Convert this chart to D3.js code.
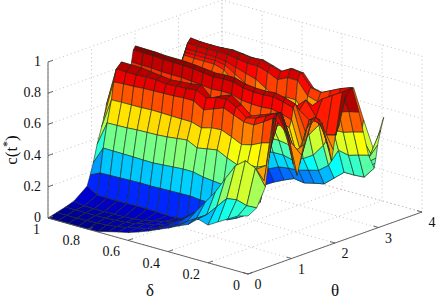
<!DOCTYPE html>
<html>
<head>
<meta charset="utf-8">
<script src="https://cdn.jsdelivr.net/npm/d3@7"></script>
<style>
  html, body { margin: 0; padding: 0; background: #fff; }
  svg { display: block; }
  text { font-family: "Liberation Serif", serif; font-size: 14px; fill: #111; }
</style>
</head>
<body>
<svg id="chart" width="436" height="300"></svg>
<script>
// grid of the surface
const deltas = d3.range(0, 21).map(i => +(1 - i * 0.05).toFixed(2));
const thetas = [0, .2, .4, .6, .9, .97, 1.04, 1.13, 1.23, 1.28, 1.34, 1.46, 1.56, 1.7, 1.87, 1.92, 1.96, 2.01,
  2.1, 2.25, 2.4, 2.55, 2.65, 2.77, 2.9, 2.92, 2.94, 2.98, 3.05, 3.12];

// c(t*), one row per theta, delta going 1 -> 0
const heights = [
  [0,0,0,0,0,.003,.02,.036,.05,.072,.096,.124,.151,.182,.21,.263,.242,.28,.317,.354,.372],
  [.015,.015,.015,.018,.02,.025,.033,.045,.06,.075,.095,.125,.15,.19,.23,.27,.34,.41,.42,.4,.404],
  [.03,.03,.03,.03,.032,.035,.04,.05,.065,.08,.1,.132,.175,.232,.314,.396,.5,.6,.65,.62,.518],
  [.05,.035,.035,.035,.036,.038,.042,.05,.065,.08,.1,.14,.19,.24,.3,.36,.42,.5,.57,.52,.94],
  [.115,.076,.074,.073,.075,.077,.076,.074,.07,.072,.083,.1,.12,.15,.15,.18,.22,.3,.573,.92,.81],
  [.18,.21,.212,.214,.216,.218,.217,.219,.221,.222,.224,.217,.215,.22,.22,.25,.28,.31,.663,.918,.74],
  [.25,.363,.362,.361,.36,.358,.357,.362,.367,.372,.371,.356,.349,.342,.34,.34,.36,.41,.86,.865,.6],
  [.36,.515,.517,.519,.524,.526,.528,.533,.541,.549,.516,.528,.539,.506,.48,.5,.5,.53,.884,.786,.52],
  [.46,.653,.655,.656,.657,.66,.659,.657,.656,.655,.635,.653,.658,.631,.6,.615,.646,.664,.874,.7,.64],
  [.51,.763,.768,.77,.775,.777,.779,.781,.786,.785,.745,.769,.794,.767,.74,.738,.776,.819,.824,.637,.7],
  [.59,.84,.838,.837,.842,.841,.833,.838,.84,.849,.815,.837,.845,.812,.76,.776,.808,.845,.767,.541,.79],
  [.69,.873,.872,.871,.863,.855,.847,.853,.858,.869,.804,.835,.859,.813,.76,.785,.81,.833,.659,.6,.84],
  [.6,.62,.62,.62,.62,.62,.62,.62,.62,.63,.64,.66,.7,.72,.73,.74,.74,.745,.54,.74,.85],
  [.55,.55,.55,.55,.55,.55,.58,.6,.62,.62,.64,.66,.68,.7,.72,.72,.72,.6,.558,.8,.79],
  [.7,.7,.7,.695,.694,.693,.688,.681,.673,.678,.677,.67,.68,.68,.69,.69,.68,.459,.765,.783,.61],
  [.809,.807,.806,.801,.8,.799,.794,.787,.779,.784,.783,.762,.755,.753,.76,.745,.725,.518,.76,.765,.533],
  [.882,.881,.88,.875,.874,.873,.868,.861,.853,.858,.857,.836,.829,.827,.833,.818,.798,.578,.769,.723,.6],
  [.903,.901,.9,.895,.894,.893,.888,.881,.873,.878,.877,.856,.849,.847,.853,.838,.818,.656,.77,.673,.69],
  [.45,.7,.7,.7,.7,.7,.72,.74,.76,.82,.8,.8,.79,.81,.8,.79,.77,.724,.743,.568,.75],
  [.45,.6,.6,.6,.6,.6,.62,.64,.66,.72,.7,.69,.68,.69,.73,.76,.82,.729,.631,.649,.92],
  [.45,.55,.55,.55,.55,.55,.55,.56,.56,.6,.58,.57,.57,.59,.64,.71,.77,.83,.87,.91,.954],
  [.45,.5,.5,.5,.5,.5,.48,.46,.44,.48,.47,.46,.46,.45,.51,.55,.63,.73,.75,.77,.785],
  [.5,.55,.55,.55,.55,.55,.5,.45,.4,.36,.35,.355,.356,.34,.37,.41,.49,.606,.61,.63,.647],
  [.55,.68,.68,.68,.68,.66,.6,.45,.3,.2,.22,.25,.26,.265,.283,.3,.35,.465,.45,.47,.487],
  [.6,.774,.77,.77,.77,.75,.68,.6,.5,.085,.122,.153,.18,.17,.186,.2,.255,.31,.31,.315,.39],
  [.6,.79,.79,.79,.79,.78,.74,.7,.66,.6,.55,.58,.58,.5,.48,.5,.52,.54,.36,.36,.42],
  [.6,.81,.81,.81,.81,.8,.78,.76,.74,.7,.66,.68,.68,.6,.58,.6,.62,.64,.4,.4,.45],
  [.62,.844,.84,.84,.84,.84,.83,.82,.82,.8,.77,.8,.8,.72,.7,.73,.76,.78,.45,.42,.53],
  [.65,.869,.862,.861,.861,.866,.86,.852,.856,.836,.815,.852,.845,.766,.752,.783,.814,.838,.55,.45,.62],
  [.62,.85,.847,.846,.851,.856,.849,.841,.846,.826,.805,.842,.835,.756,.742,.773,.804,.828,.64,.467,.695]
];

// axis ticks
const deltaTicks = [0, .2, .4, .6, .8, 1];
const thetaTicks = [0, 1, 2, 3, 4];
const zTicks = [0, .2, .4, .6, .8, 1];

// fixed oblique view of the box, corners measured on the picture
const dx = d3.scaleLinear().domain([1, 0]).range([0, 200]);
const dy = d3.scaleLinear().domain([1, 0]).range([0, 56]);
const tx = d3.scaleLinear().domain([0, 4]).range([0, 174]);
const ty = d3.scaleLinear().domain([0, 4]).range([0, 62]);
const zy = d3.scaleLinear().domain([0, 1]).range([0, 156]);
const project = (d, t, z) => [48 + dx(d) + tx(t), 218 + dy(d) - ty(t) - zy(z)];

const svg = d3.select("#chart");
const line = d3.line();

/// back walls and floor ///
const grid = svg.append("g")
  .attr("fill", "none")
  .attr("stroke", "#a8a8a8")
  .attr("stroke-width", 0.7)
  .attr("stroke-dasharray", "1 3");
const gridLines = [];
deltaTicks.forEach(d => {
  gridLines.push([project(d, 0, 0), project(d, 4, 0), project(d, 4, 1)]);
});
thetaTicks.forEach(t => {
  gridLines.push([project(0, t, 0), project(1, t, 0), project(1, t, 1)]);
});
zTicks.forEach(z => {
  gridLines.push([project(1, 0, z), project(1, 4, z), project(0, 4, z)]);
});
grid.selectAll("path").data(gridLines).join("path").attr("d", line);

/// surface ///
const cMax = 0.9;
const jet = t => {
  t = Math.max(0, Math.min(1, t));
  const f = v => Math.round(255 * Math.max(0, Math.min(1, 1.5 - Math.abs(4 * t - v))));
  return `rgb(${f(3)},${f(2)},${f(1)})`;
};
// far cells first so the near ones paint over them
const cells = [];
for (let i = thetas.length - 2; i >= 0; i--) {
  for (let j = 0; j < deltas.length - 1; j++) {
    const corners = [[i, j], [i, j + 1], [i + 1, j + 1], [i + 1, j]];
    cells.push({
      pts: corners.map(([a, b]) => project(deltas[b], thetas[a], heights[a][b])),
      z: d3.mean(corners, ([a, b]) => heights[a][b])
    });
  }
}
svg.append("g").selectAll("path")
  .data(cells)
  .join("path")
  .attr("d", d => line(d.pts) + "Z")
  .attr("fill", d => jet(d.z / cMax))
  .attr("stroke", "#1c2a1c")
  .attr("stroke-width", 0.6)
  .attr("stroke-linejoin", "round");

/// axes ///
const axes = svg.append("g").attr("fill", "none").attr("stroke", "#555").attr("stroke-width", 0.9);
axes.append("path").attr("d", line([project(1, 0, 1), project(1, 0, 0), project(0, 0, 0), project(0, 4, 0)]));
const tickLines = [
  ...zTicks.map(z => [project(1, 0, z), [project(1, 0, z)[0] + 5, project(1, 0, z)[1] - 1.8]]),
  ...deltaTicks.map(d => [project(d, 0, 0), [project(d, 0, 0)[0] + 5, project(d, 0, 0)[1] - 1.8]]),
  ...thetaTicks.map(t => [project(0, t, 0), [project(0, t, 0)[0] - 5, project(0, t, 0)[1] - 1.4]])
];
axes.selectAll("path.tick").data(tickLines).join("path").attr("class", "tick").attr("d", line);

/// labels ///
const labels = svg.append("g");
labels.selectAll("text.z").data(zTicks).join("text").attr("class", "z")
  .attr("x", 41).attr("y", z => project(1, 0, z)[1] + 4)
  .attr("text-anchor", "end").text(String);
labels.selectAll("text.d").data(deltaTicks).join("text").attr("class", "d")
  .attr("x", d => project(d, 0, 0)[0] - 8).attr("y", d => project(d, 0, 0)[1] + 16)
  .attr("text-anchor", "end").text(String);
labels.selectAll("text.t").data(thetaTicks).join("text").attr("class", "t")
  .attr("x", t => project(0, t, 0)[0] + 10).attr("y", t => project(0, t, 0)[1] + 15)
  .attr("text-anchor", "middle").text(String);

labels.append("text").attr("x", 150).attr("y", 296).attr("text-anchor", "middle").style("font-size", "17px").text("δ");
labels.append("text").attr("x", 335).attr("y", 296).attr("text-anchor", "middle").style("font-size", "17px").text("θ");
const zLabel = labels.append("text").attr("transform", "translate(17,150) rotate(-90)")
  .attr("text-anchor", "middle").style("font-size", "17px");
zLabel.append("tspan").text("c(t");
zLabel.append("tspan").attr("dy", -6).style("font-size", "12px").text("*");
zLabel.append("tspan").attr("dy", 6).text(")");
</script>
</body>
</html>
